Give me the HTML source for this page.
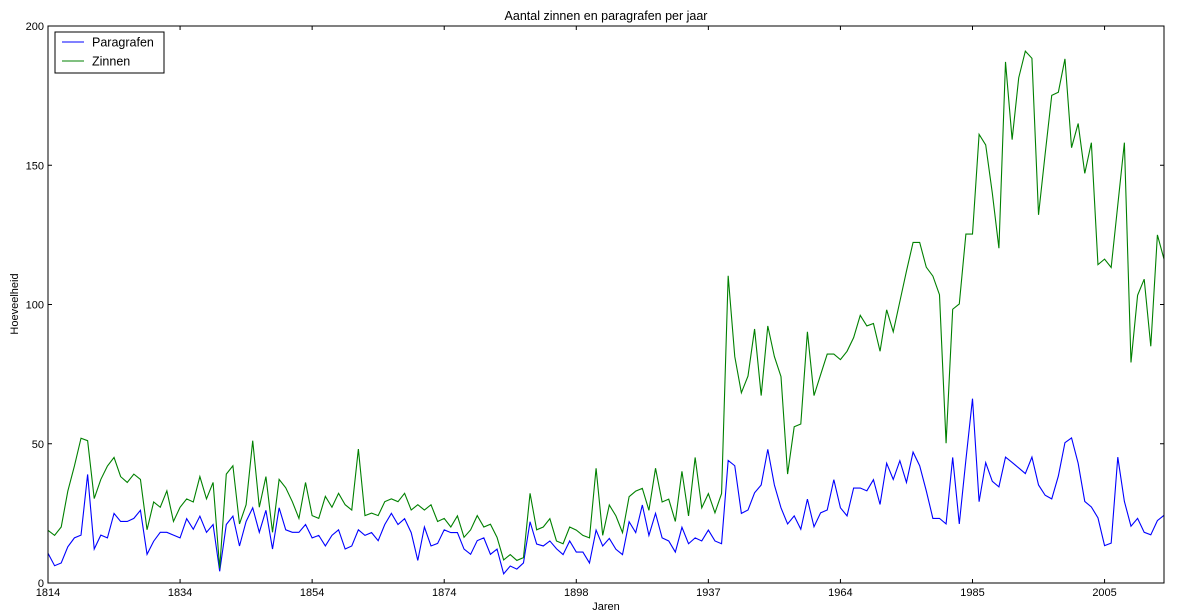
<!DOCTYPE html>
<html><head><meta charset="utf-8"><style>
html,body{margin:0;padding:0;background:#fff;}
svg{display:block;font-family:"Liberation Sans","DejaVu Sans",sans-serif;}
</style></head><body>
<svg id="chart" width="1180" height="612" viewBox="0 0 1180 612" xmlns="http://www.w3.org/2000/svg">
<rect x="0" y="0" width="1180" height="612" fill="#fff"/>
<text x="606" y="20" font-size="12.5" text-anchor="middle">Aantal zinnen en paragrafen per jaar</text>
<text x="606" y="610" font-size="11" text-anchor="middle">Jaren</text>
<text x="18" y="304" font-size="11" text-anchor="middle" transform="rotate(-90 18 304)">Hoeveelheid</text>
<g id="ticks"></g>
<g id="series"></g>
<rect x="48" y="26" width="1116" height="557" fill="none" stroke="#000" stroke-width="1"/>
<g>
<rect x="55" y="32" width="109" height="41" fill="#fff" stroke="#000" stroke-width="1"/>
<line x1="62" y1="42" x2="84" y2="42" stroke="#0000ff" stroke-width="1"/>
<text x="92" y="46.5" font-size="12.5">Paragrafen</text>
<line x1="62" y1="61" x2="84" y2="61" stroke="#008000" stroke-width="1"/>
<text x="92" y="65.5" font-size="12.5">Zinnen</text>
</g>
</svg>
<script>
const xTickIdx = [0,20,40,60,80,100,120,140,160];
const xTickLabels = ["1814","1834","1854","1874","1898","1937","1964","1985","2005"];
const yTicks = [0,50,100,150,200];
const paragrafen = [10.7,6.2,7.2,13,16.2,17.2,39,12.2,17.2,16.2,
25,22.1,22.1,23.2,26.1,10.3,15,18.2,18.2,17.2,
16.2,23.1,19.3,24,18.2,21,4.2,21,24,13.3,
22.1,27,18.2,26.1,12.2,27,19.1,18.2,18.2,21,
16.2,17.1,13.3,17.1,19.1,12.2,13.3,19.1,17.1,18.1,
15.2,21,25,21,23.1,18.1,8.1,20.1,13.3,14.2,
19.1,18.1,18.1,12.2,10.3,15.2,16.2,10.3,12.2,3.3,
6.1,5,7.2,22,14,13.3,15.1,12.3,10.2,15.1,
11.1,11.1,7.2,19,13.3,16,12.1,10.2,22,18.1,
28,17.1,25,16.2,15.1,11.1,20,14.1,16.2,15.1,
19,15.1,14.1,44,42.1,25,26.2,32.4,35.2,48,
35.2,27,21.2,24.1,19.3,30.1,20.2,25.2,26.2,37.1,
27,24.1,34.1,34.1,33.1,37.1,28.2,43,37.2,43.9,
36.1,47,42.1,33.1,23.2,23.2,21.2,45.1,21.2,44.2,
66.2,29.2,43.2,36.5,34.5,45.2,43.3,41.3,39.3,45.2,
35.2,31.5,30.2,38.4,50.4,52.1,43,29.3,27.3,23.4,
13.4,14.3,45.2,29.3,20.4,23.2,18.2,17.3,22.4,24.3];
const zinnen = [18.9,17.1,20.1,33,42,52,51.1,30.3,37.2,42,
45.1,38.2,36.1,39.1,37.2,19.1,29.1,27.2,33.1,22.1,
27.2,30.2,29.1,38.2,30.2,36.1,5.3,39.1,42.1,21.2,
28.1,51.1,27.2,38.2,18.2,37.2,34.2,29.2,23.2,36.1,
24.2,23.2,31.1,27.2,32.2,28.1,26.2,48.1,24.2,25.1,
24.2,29.2,30.2,29.2,32.2,26.2,28.1,26.2,28.1,22.1,
23.2,20.1,24.1,16.4,19.1,24.2,20.1,21.1,16.4,8.3,
10.2,8.1,9.1,32.2,19.1,20.1,23.1,15.1,14.1,20.1,
19,17.1,16.2,41.2,17.1,28,24.1,18.1,31,33,
34,26.1,41.2,29.1,30.1,22.1,40.1,24.1,45.1,27,
32.1,25.2,32.1,110.3,81.3,68.3,74.3,91.2,67.3,92.3,
81.3,74.1,39.1,56.1,57.1,90.2,67.3,74.8,82.2,82.2,
80.2,83.2,88.1,96.1,92.3,93.2,83.2,98.1,90.2,101.1,
112,122.3,122.3,113.4,110.2,103.5,50.2,98.3,100.2,125.3,
125.3,161.1,157.3,140,120.2,187.1,159.2,181.4,191,188.4,
132.2,154,175.1,176.2,188.2,156.3,165,147.1,158.1,114.3,
116.3,113.3,135.7,158.1,79.2,103.3,109.1,85,125,116.3];

const L=48,R=1164,T=26,B=583,XMAX=169,YMAX=200;
function xs(i){return L+(R-L)*i/XMAX;}
function ys(v){return B-(B-T)*v/YMAX;}
const NS="http://www.w3.org/2000/svg";
const tg=document.getElementById('ticks');
xTickIdx.forEach((idx,k)=>{
  const x=xs(idx);
  const t1=document.createElementNS(NS,'line');
  t1.setAttribute('x1',x);t1.setAttribute('x2',x);t1.setAttribute('y1',B);t1.setAttribute('y2',B-4);
  t1.setAttribute('stroke','#000');
  
  
  tg.appendChild(t1);
  const t2=document.createElementNS(NS,'line');
  t2.setAttribute('x1',x);t2.setAttribute('x2',x);t2.setAttribute('y1',T);t2.setAttribute('y2',T+4);
  t2.setAttribute('stroke','#000');
  
  
  tg.appendChild(t2);
  const tx=document.createElementNS(NS,'text');
  tx.setAttribute('x',x);tx.setAttribute('y',B+13);tx.setAttribute('font-size','11');tx.setAttribute('text-anchor','middle');
  tx.textContent=xTickLabels[k];
  
  
  tg.appendChild(tx);
});
yTicks.forEach(v=>{
  const y=ys(v);
  const t1=document.createElementNS(NS,'line');
  t1.setAttribute('x1',L);t1.setAttribute('x2',L+4);t1.setAttribute('y1',y);t1.setAttribute('y2',y);
  t1.setAttribute('stroke','#000');
  
  
  tg.appendChild(t1);
  const t2=document.createElementNS(NS,'line');
  t2.setAttribute('x1',R-4);t2.setAttribute('x2',R);t2.setAttribute('y1',y);t2.setAttribute('y2',y);
  t2.setAttribute('stroke','#000');
  
  
  tg.appendChild(t2);
  const tx=document.createElementNS(NS,'text');
  tx.setAttribute('x',L-4);tx.setAttribute('y',y+4);tx.setAttribute('font-size','11');tx.setAttribute('text-anchor','end');
  tx.textContent=String(v);
  
  
  tg.appendChild(tx);
});
const sg=document.getElementById('series');
function addLine(data,color,name){
  const p=document.createElementNS(NS,'polyline');
  p.setAttribute('points',data.map((v,i)=>xs(i).toFixed(2)+','+ys(v).toFixed(2)).join(' '));
  p.setAttribute('fill','none');p.setAttribute('stroke',color);p.setAttribute('stroke-width','1.1');
  
  
  sg.appendChild(p);
}
addLine(paragrafen,'#0000ff','paragrafen-line');
addLine(zinnen,'#008000','zinnen-line');
</script>
</body></html>
